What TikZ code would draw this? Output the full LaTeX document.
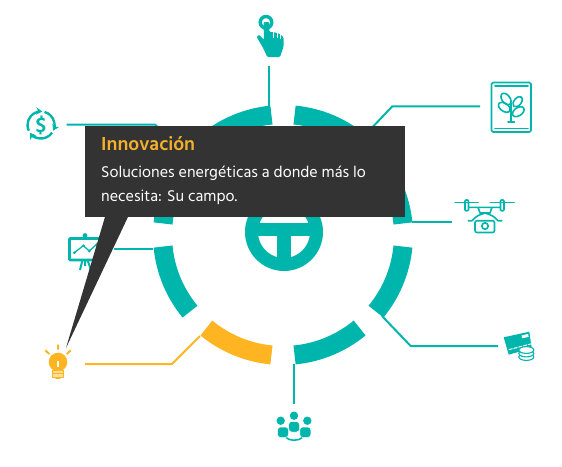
\documentclass[tikz,border=0pt]{standalone}
\usepackage{fontspec}
\setmainfont{Hind Madurai}
\usepackage{xcolor}
\usetikzlibrary{arrows.meta,calc}
\definecolor{tealmain}{HTML}{00B5AC}
\definecolor{ambermain}{HTML}{FFB521}
\definecolor{titleamber}{HTML}{F4AF2D}
\definecolor{boxgray}{HTML}{333333}

\begin{document}
\begin{tikzpicture}[x=1pt,y=-1pt,>={Stealth[length=6pt,width=7.5pt]},
  link/.style={draw=tealmain,line width=2pt},
  iconline/.style={draw=tealmain,line width=1.6pt,line cap=round,line join=round},
  iconfill/.style={fill=tealmain,draw=none}]
  \useasboundingbox (0,0) rectangle (562,466);

  \coordinate (ring) at (283,235);
  \coordinate (emblem) at (284,232);

  \foreach \start/\segcolor in {5.5/tealmain,50.5/tealmain,95.5/tealmain,140.5/tealmain,185.5/tealmain,230.5/ambermain,275.5/tealmain,320.5/tealmain}
    \draw[draw=\segcolor,line width=19pt] ([shift={(\start:120.5pt)}]ring) arc[start angle=\start,delta angle=34,radius=120.5pt];

  \draw[draw=tealmain,line width=13pt] (emblem) circle[radius=32.5pt];
  \draw[draw=tealmain,line width=13pt] ($(emblem)+(-30,-2.5)$) -- ($(emblem)+(30,-2.5)$);
  \draw[draw=tealmain,line width=14pt] ($(emblem)+(0,-5)$) -- ($(emblem)+(0,32)$);

  % connectors
  \coordinate (handend) at (269.3,66);
  \coordinate (handfoot) at (269.3,106);
  \coordinate (dollarend) at (66.5,124.5);
  \coordinate (dollarbend) at (155,124.5);
  \coordinate (dollarfoot) at (182,151);
  \coordinate (plantend) at (480,106.3);
  \coordinate (plantbend) at (392.3,106.3);
  \coordinate (plantfoot) at (366,134);
  \coordinate (droneend) at (451.7,222);
  \coordinate (dronefoot) at (412,222);
  \coordinate (cardend) at (498,346);
  \coordinate (cardbend) at (410.7,346);
  \coordinate (cardfoot) at (382,316);
  \coordinate (peopleend) at (294,404);
  \coordinate (peoplefoot) at (294,364);
  \coordinate (bulbend) at (85,364);
  \coordinate (bulbbend) at (172,364);
  \coordinate (bulbfoot) at (200,336);
  \coordinate (chartend) at (114,248.7);
  \coordinate (chartfoot) at (153,248.7);
  \draw[link] (handend) -- (handfoot);
  \draw[link] (dollarend) -- (dollarbend) -- (dollarfoot);
  \draw[link] (plantend) -- (plantbend) -- (plantfoot);
  \draw[link] (droneend) -- (dronefoot);
  \draw[link] (cardend) -- (cardbend) -- (cardfoot);
  \draw[link] (peopleend) -- (peoplefoot);
  \draw[link,draw=ambermain] (bulbend) -- (bulbbend) -- (bulbfoot);
  \draw[link] (chartend) -- (chartfoot);

  % hand
  \draw[draw=tealmain,line width=3.4pt] (266,22.3) circle[radius=5.8pt];
  \fill[tealmain,rounded corners=1.2pt] (263.5,22) -- (269.3,22) -- (269.5,32) -- (273.3,32) -- (276.7,33) -- (280,34) -- (283.5,37.3) -- (283.5,47) -- (280,57) -- (267.3,57) -- (263.3,48.3) -- (256.5,36.7) -- (259,34.5) -- (264,40) -- cycle;
  \draw[white,line width=.6pt] (273.3,32) -- (273.3,38) (276.8,33) -- (276.8,38) (280.2,34) -- (280.2,39);

  % dollar
  \draw[iconline,line cap=butt,line width=2.4pt,->] ([shift={(205:13.5pt)}]41,125) arc[start angle=205,delta angle=-120,radius=13.5pt];
  \draw[iconline,line cap=butt,line width=2.4pt,->] ([shift={(75:13.5pt)}]41,125) arc[start angle=75,delta angle=-100,radius=13.5pt];
  \draw[iconline,line cap=butt,line width=2.4pt,->] ([shift={(-35:13.5pt)}]41,125) arc[start angle=-35,delta angle=-110,radius=13.5pt];
  \node[text=tealmain,font=\bfseries\fontsize{21}{21}\selectfont,inner sep=0pt] (dollarsign) at (41,125) {\$};

  % plant
  \draw[iconline,rounded corners=1.5pt] (491.5,82.5) rectangle (531,132);
  \draw[iconline] (495,86) -- (528,86) (495,128.3) -- (528,128.3);
  \draw[iconline] (511,103) -- (511,121.7) (508,121.7) -- (514.5,121.7);
  \draw[iconline,rotate around={-53:(506,99)}] (506,99) ellipse[x radius=6.5pt,y radius=4pt];
  \draw[iconline,rotate around={50:(517.7,101.7)}] (517.7,101.7) ellipse[x radius=6pt,y radius=3.6pt];
  \draw[iconline,rotate around={-35:(504.3,107.3)}] (504.3,107.3) ellipse[x radius=6.5pt,y radius=4pt];
  \draw[iconline,rotate around={35:(518.3,111.7)}] (518.3,111.7) ellipse[x radius=6.5pt,y radius=4pt];

  % drone
  \draw[iconline] (455,202.3) -- (478.3,202.3) (490.3,202.3) -- (514.3,202.3);
  \draw[iconline,rounded corners=1pt] (465,200) rectangle (468.5,210.7);
  \draw[iconline,rounded corners=1pt] (500.5,200) rectangle (504,210.7);
  \draw[iconline] (469,207.3) -- (500,207.3) (478,207.3) -- (480,213) -- (490,213) -- (492,207.3);
  \draw[iconline] (468.3,220.7) -- (472,220.7) .. controls (476,216) and (479,215) .. (485,213) .. controls (491,215) and (494,216) .. (498,220.7) -- (501.7,220.7);
  \draw[iconline,rounded corners=2pt] (475,220.7) rectangle (494.5,232.5);
  \draw[iconline] (485,226) circle[radius=3.2pt];

  % card
  \fill[tealmain] (503.7,337.3) -- (529.3,331.7) -- (531.7,348) -- (508.7,354.7) -- cycle;
  \draw[white,line width=1pt,dashed,dash pattern=on 4pt off 1pt] (508.7,349.7) -- (531.7,343.7);
  \fill[white] (521.5,335.5) -- (528,334) -- (528.7,336.8) -- (522.2,338.3) -- cycle;
  \foreach \coiny in {357,353.5,350}
    \draw[draw=tealmain,fill=white,line width=1.1pt] (526.3,\coiny) ellipse[x radius=7.5pt,y radius=3.4pt];

  % people
  \fill[tealmain] (294,415.7) circle[radius=4.2pt] (280.7,420.7) circle[radius=4.2pt] (307.3,420.7) circle[radius=4.2pt];
  \draw[iconline] (285,436.7) .. controls (289,441.5) and (299,441.5) .. (303.3,436.7);
  \filldraw[fill=tealmain,draw=white,line width=.5pt,rounded corners=3pt] (277.5,427) rectangle (288.5,437.5);
  \filldraw[fill=tealmain,draw=white,line width=.5pt,rounded corners=3pt] (299.8,427) rectangle (310.8,437.5);
  \filldraw[fill=tealmain,draw=white,line width=.5pt,rounded corners=3pt] (288.7,421.5) rectangle (299.5,432);

  % bulb
  \fill[ambermain] (58,362) circle[radius=9.3pt];
  \draw[white,line width=1.3pt] (58,361) -- (58,367);
  \draw[draw=ambermain,line width=2pt] (58,344.7) -- (58,349.7) (45.3,350.3) -- (49.3,354) (70.7,350.3) -- (66.7,354);
  \filldraw[draw=ambermain,fill=ambermain!45,line width=1pt] (52.9,370.5) rectangle (63.1,377);
  \draw[draw=ambermain,line width=.7pt] (53,373.7) -- (63,373.7);
  \fill[ambermain] (54,377) -- (62,377) -- (60,378.8) -- (56,378.8) -- cycle;

  % chart
  \draw[draw=tealmain,line width=2.6pt,rounded corners=.8pt] (69.5,238.5) rectangle (101,260);
  \fill[tealmain] (85,235.5) circle[radius=2.4pt];
  \draw[draw=tealmain,line width=1.3pt] (74.3,252.7) -- (83.3,245.7) -- (89.3,251) -- (96.7,244.3);
  \fill[tealmain] (74.3,252.7) circle[radius=1.5pt] (83.3,245.7) circle[radius=1.5pt] (89.3,251) circle[radius=1.5pt] (96.7,244.3) circle[radius=1.5pt];
  \draw[draw=tealmain,line width=2pt] (82.5,260) -- (80,270) (85,260) -- (85,266) (87.5,260) -- (91,270);

  % info box
  \coordinate (tailtip) at (66,348);
  \node[fill=boxgray,minimum width=320pt,minimum height=91pt,inner sep=0pt,anchor=north west] (infobox) at (85,126) {};
  \fill[boxgray] ($(infobox.south west)+(20,-.5)$) -- ($(infobox.south west)+(43,-.5)$) -- (tailtip) -- cycle;
  \node[anchor=base west,inner sep=0pt,text=titleamber,font=\bfseries\fontsize{19.3}{20}\selectfont] (infotitle) at (101,150) {Innovación};
  \node[anchor=north west,inner sep=0pt,text=white,align=left,font=\fontsize{16}{24.5}\selectfont] (infotext) at (101,165.5) {Soluciones energéticas a donde más lo\\necesita: Su campo.};
\end{tikzpicture}
\end{document}
